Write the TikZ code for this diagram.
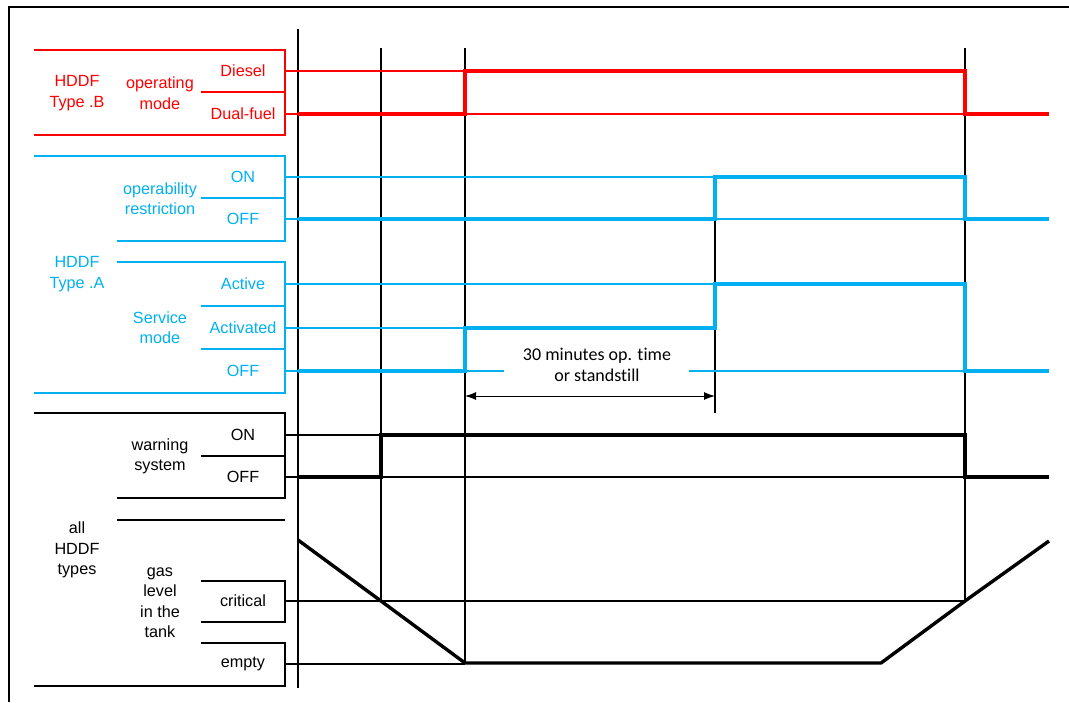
\documentclass[tikz,border=0pt]{standalone}
\usepackage{fontspec}
\setmainfont{Liberation Sans}
\newfontfamily\calibrifont[Ligatures=NoCommon]{Carlito}
\usetikzlibrary{arrows.meta}
\definecolor{hddfred}{RGB}{255,0,0}
\definecolor{hddfblue}{RGB}{0,176,240}

\begin{document}
\begin{tikzpicture}[x=1pt, y=-1pt,
        txt/.style={font=\fontsize{16.2}{20.5}\selectfont, align=center, inner sep=0pt},
        frame/.style={line width=1.8pt},
        box/.style={line width=1.7pt},
        lvl/.style={line width=1.5pt},
        sig/.style={line width=3.4pt}]
    \useasboundingbox (0,0) rectangle (1069,702);
    \draw [frame] (9,702) -- (9,7) -- (1069,7);

    % time axis and time marks
    \draw [lvl] (298,29) -- (298,688);
    \draw [lvl] (381,48) -- (381,601);
    \draw [lvl] (465,48) -- (465,663);
    \draw [lvl] (715,178) -- (715,413);
    \draw [lvl] (965,48) -- (965,601);

    % HDDF Type .B
    \draw [box, hddfred] (34,50) -- (285,50) -- (285,135) -- (34,135);
    \draw [box, hddfred] (201,92) -- (285,92);
    \node [txt, hddfred] (typeB) at (77,93) {HDDF\\Type .B};
    \node [txt, hddfred] (opmode) at (160,93) {operating\\mode};
    \node [txt, hddfred] (diesel) at (243,71) {Diesel};
    \node [txt, hddfred] (dualfuel) at (243,114) {Dual-fuel};
    \draw [lvl, hddfred] (285,71) -- (965,71);
    \draw [lvl, hddfred] (285,114) -- (1049,114);
    \draw [sig, hddfred] (298,114) -- (465,114) -- (465,71) -- (965,71) -- (965,114) -- (1049,114);

    % HDDF Type .A
    \draw [box, hddfblue] (34,156) -- (285,156) -- (285,241) -- (117,241);
    \draw [box, hddfblue] (201,198) -- (285,198);
    \draw [box, hddfblue] (117,262) -- (285,262) -- (285,393) -- (34,393);
    \draw [box, hddfblue] (201,306) -- (285,306);
    \draw [box, hddfblue] (201,349) -- (285,349);
    \node [txt, hddfblue] (typeA) at (77,274) {HDDF\\Type .A};
    \node [txt, hddfblue] (restr) at (160,198.5) {operability\\restriction};
    \node [txt, hddfblue] (service) at (160,327.5) {Service\\mode};
    \node [txt, hddfblue] (restrOn) at (243,177) {ON};
    \node [txt, hddfblue] (restrOff) at (243,219) {OFF};
    \node [txt, hddfblue] (active) at (243,284) {Active};
    \node [txt, hddfblue] (activated) at (243,328) {Activated};
    \node [txt, hddfblue] (serviceOff) at (243,371) {OFF};
    \draw [lvl, hddfblue] (285,177) -- (715,177);
    \draw [lvl, hddfblue] (285,219) -- (1049,219);
    \draw [lvl, hddfblue] (285,284) -- (965,284);
    \draw [lvl, hddfblue] (285,328) -- (715,328);
    \draw [lvl, hddfblue] (285,371) -- (504,371);
    \draw [lvl, hddfblue] (689,371) -- (1049,371);
    \draw [sig, hddfblue] (298,219) -- (715,219) -- (715,177) -- (965,177) -- (965,219) -- (1049,219);
    \draw [sig, hddfblue] (298,371) -- (465,371) -- (465,328) -- (715,328) -- (715,284) -- (965,284) -- (965,371) -- (1049,371);

    % 30 minutes
    \node [txt, font=\calibrifont\fontsize{18}{21.5}\selectfont] (delay) at (597,365) {30 minutes op. time\\or standstill};
    \draw [line width=1pt, {Latex[length=11pt,width=8pt]}-{Latex[length=11pt,width=8pt]}] (465,396) -- (715,396);

    % warning system
    \draw [box] (34,413) -- (285,413) -- (285,498) -- (117,498);
    \draw [box] (201,456) -- (285,456);
    \node [txt] (warning) at (160,456.5) {warning\\system};
    \node [txt] (warnOn) at (243,435) {ON};
    \node [txt] (warnOff) at (243,477) {OFF};
    \draw [lvl] (285,435) -- (965,435);
    \draw [lvl] (285,477) -- (1049,477);
    \draw [sig] (298,477) -- (381,477) -- (381,435) -- (965,435) -- (965,477) -- (1049,477);

    % gas level
    \draw [box] (117,520) -- (285,520);
    \draw [box] (201,581) -- (285,581) -- (285,622) -- (201,622);
    \draw [box] (201,643) -- (285,643) -- (285,686) -- (34,686);
    \node [txt] (allTypes) at (77,550) {all\\HDDF\\types};
    \node [txt] (gas) at (160,602.5) {gas\\level\\in the\\tank};
    \node [txt] (critical) at (243,601) {critical};
    \node [txt] (empty) at (243,664) {empty};
    \draw [lvl] (285,601) -- (965,601);
    \draw [lvl] (285,664) -- (465,664);
    \draw [sig, line join=round] (298,540) -- (381,601) -- (465,663) -- (881,663) -- (965,601) -- (1049,541);
\end{tikzpicture}
\end{document}
